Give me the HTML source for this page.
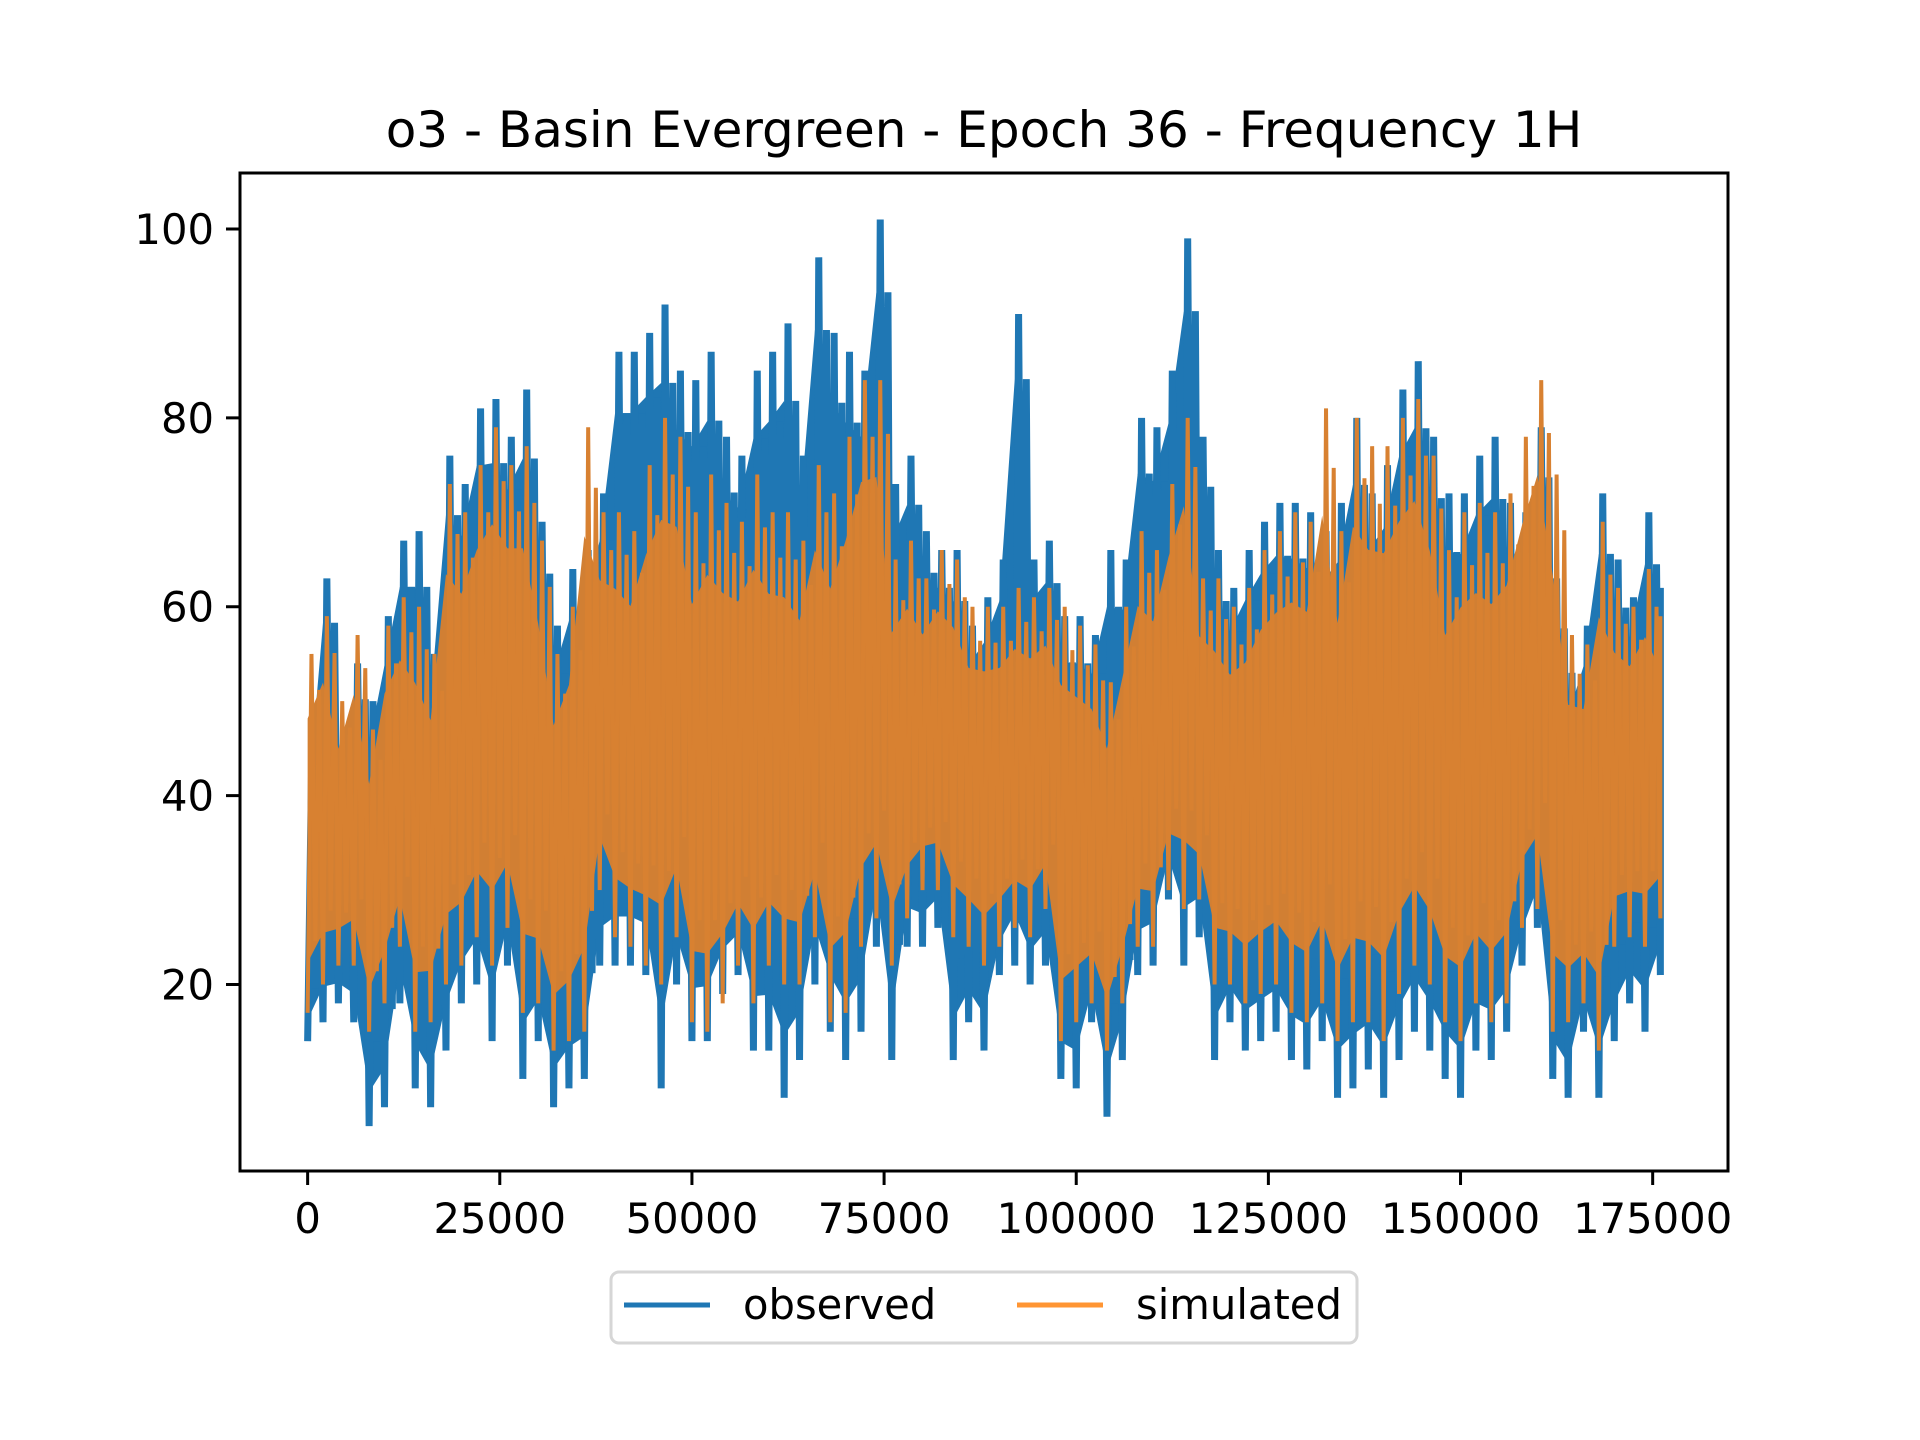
<!DOCTYPE html>
<html><head><meta charset="utf-8"><style>
html,body{margin:0;padding:0;background:#fff;}
svg{display:block;font-family:"DejaVu Sans","Liberation Sans",sans-serif;}
</style></head><body>
<svg id="chart" width="1920" height="1440" viewBox="0 0 1920 1440">
<rect width="1920" height="1440" fill="#fff"/>
<text x="984" y="147" text-anchor="middle" font-size="50" fill="#000">o3 - Basin Evergreen - Epoch 36 - Frequency 1H</text>
<g id="plot"></g>
<g id="axes"></g>
<g>
<rect x="611" y="1272" width="746" height="71" rx="8" fill="#fff" stroke="#d6d6d6" stroke-width="3"/>
<line x1="624" y1="1305" x2="710" y2="1305" stroke="#1f77b4" stroke-width="5"/>
<text x="743" y="1319" font-size="41.7">observed</text>
<line x1="1017" y1="1305" x2="1103" y2="1305" stroke="#ff9533" stroke-width="5"/>
<text x="1136" y="1319" font-size="41.7">simulated</text>
</g>
</svg>
<script>
const binStart = [0,2,4,6,8,10,12,14,16,18,20,22,24,26,28,30,32,34,36,38,40,42,44,46,48,50,52,54,56,58,60,62,64,66,68,70,72,74,76,78,80,82,84,86,88,90,92,94,96,98,100,102,104,106,108,110,112,114,116,118,120,122,124,126,128,130,132,134,136,138,140,142,144,146,148,150,152,154,156,158,160,162,164,166,168,170,172,174,176];
const obsHi = [42,63,45,54,50,59,67,68,55,76,73,81,82,78,83,69,58,64,66,72,87,87,89,92,85,84,87,78,76,85,87,90,76,97,89,87,85,101,73,76,68,66,66,58,61,65,91,65,67,59,59,57,66,65,80,79,85,99,78,66,62,66,69,71,71,70,68,71,80,72,75,83,86,78,72,72,76,78,71,70,79,63,53,58,72,65,61,70,62];
const obsLo = [14,16,18,16,5,7,18,9,7,13,18,20,14,22,10,14,7,9,10,22,22,22,21,9,20,14,14,19,21,13,13,8,12,20,15,12,15,24,12,24,24,26,12,16,13,21,22,20,22,10,9,16,6,12,21,22,29,22,25,12,16,13,14,15,12,11,14,8,9,11,8,12,15,13,10,8,13,12,15,22,26,10,8,15,8,14,18,15,21];
const simHi = [55,59,50,57,47,58,61,60,55,73,70,75,79,75,77,67,55,60,79,70,70,68,75,80,78,70,74,71,69,74,70,70,67,75,72,78,84,84,65,67,63,66,65,60,60,60,62,61,62,60,58,56,52,60,68,66,73,80,63,63,60,62,66,68,70,69,81,68,80,77,77,80,82,76,66,70,71,70,72,78,84,74,57,56,69,62,60,64,59];
const simLo = [17,20,22,22,15,18,24,15,16,20,22,25,22,26,17,18,13,14,15,30,25,24,22,20,25,16,15,18,22,18,22,20,20,25,16,17,24,27,22,27,30,30,25,24,22,24,26,25,28,14,16,18,13,18,24,24,30,28,29,20,20,18,19,20,17,16,18,14,16,16,14,19,22,20,16,14,18,16,18,26,28,15,16,18,13,24,25,24,27];
const xTicks = [0,25000,50000,75000,100000,125000,150000,175000];
const yTicks = [20,40,60,80,100];

const L=240,R=1728,T=173,B=1171;
const xMin=-8800,xMax=184800,yMin=0.25,yMax=105.93;
const xs=v=>L+(v-xMin)/(xMax-xMin)*(R-L);
const ys=v=>B-(v-yMin)/(yMax-yMin)*(B-T);
const NS="http://www.w3.org/2000/svg";
const plot=document.getElementById('plot'), axes=document.getElementById('axes');
function mk(tag,attrs,parent){const e=document.createElementNS(NS,tag);for(const k in attrs)e.setAttribute(k,attrs[k]);parent.appendChild(e);return e;}

function series(hi,lo,color,fillColor,lw,upF,loF,name,op){
  const n=binStart.length;
  const up=[],dn=[];
  for(let i=0;i<n;i++){const x=xs(binStart[i]*1000);const r=hi[i]-lo[i];up.push(x+','+ys(lo[i]+upF*r));dn.unshift(x+','+ys(lo[i]+loF*r));}
  const poly=mk('polygon',{points:up.concat(dn).join(' '),fill:fillColor,stroke:'none'},plot);
  
  
  const pts=[];
  for(let i=0;i<n;i++){
    const x=xs(binStart[i]*1000);
    const xn=i<n-1?xs(binStart[i+1]*1000):x;
    const w=xn-x;
    pts.push(x+','+ys(lo[i]));
    pts.push((x+w*0.25)+','+ys(hi[i]));
    pts.push((x+w*0.5)+','+ys(lo[i]+0.2*(hi[i]-lo[i])));
    pts.push((x+w*0.75)+','+ys(hi[i]-0.1*(hi[i]-lo[i])));
  }
  const pl=mk('polyline',{points:pts.join(' '),fill:'none',stroke:color,'stroke-width':lw,'stroke-opacity':op,'stroke-linejoin':'miter'},plot);
  
  
}
series(obsHi,obsLo,'#1f77b4','#1f77b4',7,0.9,0.08,'observed',1);
series(simHi,simLo,'#d88131','#d17f33',4,0.82,0.14,'simulated',1);

const frame=mk('rect',{x:L,y:T,width:R-L,height:B-T,fill:'none',stroke:'#000','stroke-width':3},axes);


xTicks.forEach(v=>{
  const x=xs(v);
  const t=mk('line',{x1:x,y1:B,x2:x,y2:B+14,stroke:'#000','stroke-width':3},axes);
  
  
  const lb=mk('text',{x:x,y:B+62,'text-anchor':'middle','font-size':41.7},axes);
  lb.textContent=v;
  
  
});
yTicks.forEach(v=>{
  const y=ys(v);
  const t=mk('line',{x1:L-14,y1:y,x2:L,y2:y,stroke:'#000','stroke-width':3},axes);
  
  
  const lb=mk('text',{x:L-26,y:y+15,'text-anchor':'end','font-size':41.7},axes);
  lb.textContent=v;
  
  
});
</script>
</body></html>
